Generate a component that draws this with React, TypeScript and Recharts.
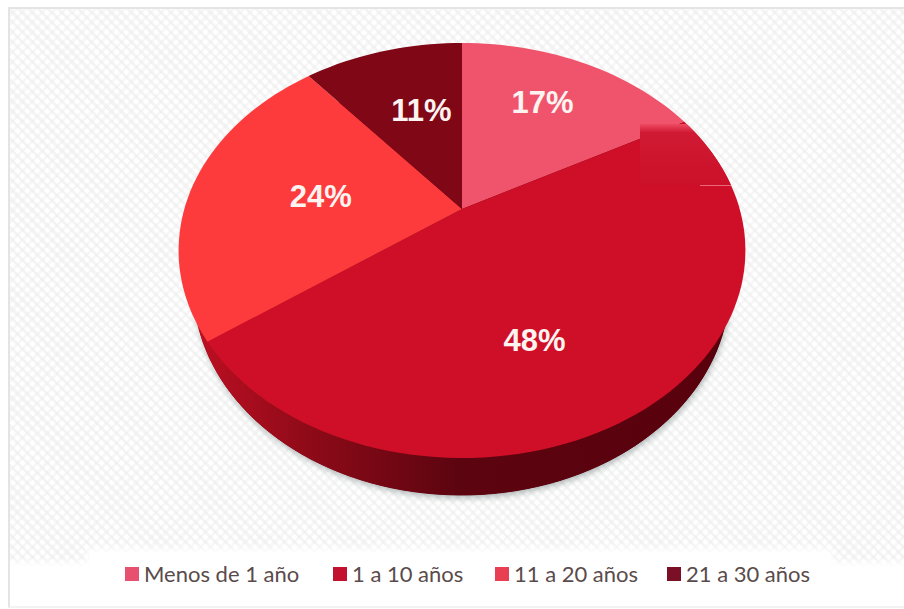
import React from 'react';
import { PieChart, Pie, Legend } from 'recharts';

const categories = ['Menos de 1 año', '1 a 10 años', '11 a 20 años', '21 a 30 años'];
const shares = [17, 48, 24, 11];
const sliceColors = ['#f0546c', '#cf0f27', '#fd3b3c', '#7f0716'];
const legendColors = ['#e8506f', '#c4102f', '#e83f52', '#7a0f26'];

// label position correction per slice, the labels in the picture are hand placed
const labelShiftX = [-2, -36, 35, 14];
const labelShiftY = [-6, 9, 3, 10];
const legendItemWidths = [208, 162, 172, 160];

const WIDTH = 904;
const HEIGHT = 609;
const APEX_X = 462;
const APEX_Y = 209;

// tilted disc: maps a point of the unit circle onto the perspective ellipse
const TILT = 0.2;
const SPREAD_X = 277.7;
const SPREAD_Y = 157.4;
const WALL_DEPTH = 37;
const WALL_NARROW = 0.945;

const chartData = categories.map((name, i) => ({
    name,
    value: shares[i],
    fill: sliceColors[i],
    legendFill: legendColors[i],
}));

const project = (angle: number, r = 1) => {
    const rad = (angle * Math.PI) / 180;
    const u = Math.cos(rad) * r;
    const v = Math.sin(rad) * r;
    const d = 1 + TILT * v;
    return { x: APEX_X + (SPREAD_X * u) / d, y: (APEX_Y - SPREAD_Y * v) / d };
};

const rimPoints = (start: number, end: number) => {
    const steps = Math.max(2, Math.ceil(Math.abs(end - start) / 2));
    const pts = [];
    for (let i = 0; i <= steps; i++) {
        pts.push(project(start + ((end - start) * i) / steps));
    }
    return pts;
};

const toWall = (p: { x: number; y: number }) => ({
    x: 461 + (p.x - 461.5) * WALL_NARROW,
    y: p.y + WALL_DEPTH,
});

const wedgePath = (pts: { x: number; y: number }[]) =>
    `M${APEX_X},${APEX_Y} ` + pts.map((p) => `L${p.x.toFixed(1)},${p.y.toFixed(1)}`).join(' ') + ' Z';

const ringPath = (pts: { x: number; y: number }[]) =>
    'M' + pts.map((p) => `${p.x.toFixed(1)},${p.y.toFixed(1)}`).join(' L') + ' Z';

const TopSlice = (props: any) => {
    const d = wedgePath(rimPoints(props.startAngle, props.endAngle));
    return (
        <g>
            <path d={d} fill={props.fill} />
            {props.index === 1 && (
                // pasted over patch that the source image has on the right of the disc
                <g clipPath="url(#rimClip)">
                    <rect x={640} y={124} width={100} height={61} fill="url(#patchFill)" />
                    <rect x={700} y={185} width={40} height={1} fill="#e8697a" />
                </g>
            )}
        </g>
    );
};

const WallSlice = (props: any) => {
    const pts = rimPoints(props.startAngle, props.endAngle).map(toWall);
    return (
        <g>
            {props.index === 0 && (
                <path
                    d={ringPath(rimPoints(0, 360).map(toWall))}
                    fill="#58000c"
                    style={{ filter: 'drop-shadow(1px 3px 3px rgba(80,95,95,0.45))' }}
                />
            )}
            <path d={wedgePath(pts)} fill="url(#wallFill)" stroke="url(#wallFill)" strokeWidth={1} />
        </g>
    );
};

const renderLabel = (props: any) => {
    const p = project(props.midAngle, 0.65);
    return (
        <text
            x={p.x + labelShiftX[props.index]}
            y={p.y + labelShiftY[props.index]}
            fill="#fdf3f1"
            textAnchor="middle"
            dominantBaseline="central"
            fontFamily="'Liberation Sans', Arial, sans-serif"
            fontWeight="bold"
            fontSize={31}
        >
            {shares[props.index]}%
        </text>
    );
};

const renderLegend = () => (
    <div style={{ display: 'flex', alignItems: 'center', height: 44, background: '#fff', boxShadow: '0 0 8px 3px #fff', paddingLeft: 35 }}>
        {chartData.map((d, i) => (
            <div key={d.name} style={{ display: 'flex', alignItems: 'center', width: legendItemWidths[i] }}>
                <span style={{ width: 14, height: 14, background: d.legendFill, marginRight: 5, display: 'inline-block' }} />
                <span style={{ fontFamily: 'Lato, sans-serif', fontSize: 22, color: '#5a4b4b', whiteSpace: 'nowrap', position: 'relative', top: -1 }}>{d.name}</span>
            </div>
        ))}
    </div>
);

export default function App() {
    return (
        <div
            style={{
                position: 'absolute',
                left: 0,
                top: 0,
                width: WIDTH,
                height: HEIGHT,
                background: '#fff',
                overflow: 'hidden',
            }}
        >
            <div
                style={{
                    position: 'absolute',
                    left: 8,
                    top: 7,
                    right: -4,
                    bottom: 1,
                    boxSizing: 'border-box',
                    border: '2px solid #e4e4e4',
                    borderBottomColor: '#f3f3f3',
                    backgroundColor: '#fff',
                    backgroundImage:
                        'repeating-linear-gradient(45deg, rgba(236,236,236,0.55) 0 3px, transparent 3px 7px), repeating-linear-gradient(-45deg, rgba(236,236,236,0.4) 0 3px, transparent 3px 7px)',
                }}
            />
            <div style={{ position: 'absolute', left: 10, top: 558, right: 0, bottom: 3, background: 'linear-gradient(#ffffff00, #fff 9px)' }} />
            <div style={{ position: 'absolute', left: 0, top: 0 }}>
                <PieChart width={WIDTH} height={HEIGHT} margin={{ top: 0, right: 0, bottom: 0, left: 0 }}>
                    <defs>
                        <clipPath id="rimClip">
                            <path d={ringPath(rimPoints(0, 360))} />
                        </clipPath>
                        <linearGradient id="patchFill" x1="0" y1="0" x2="0" y2="1">
                            <stop offset="0" stopColor="#ee4a62" />
                            <stop offset="0.14" stopColor="#d01a33" />
                            <stop offset="1" stopColor="#cc1029" />
                        </linearGradient>
                        <linearGradient id="wallFill" gradientUnits="userSpaceOnUse" x1={200} y1={0} x2={745} y2={0}>
                            <stop offset="0" stopColor="#bb0f22" />
                            <stop offset="0.2" stopColor="#8e0a18" />
                            <stop offset="0.47" stopColor="#5c0510" />
                            <stop offset="1" stopColor="#58000c" />
                        </linearGradient>
                    </defs>
                    <Pie
                        data={chartData}
                        dataKey="value"
                        nameKey="name"
                        cx={APEX_X}
                        cy={APEX_Y}
                        outerRadius={200}
                        startAngle={90}
                        endAngle={-270}
                        legendType="none"
                        shape={WallSlice}
                        isAnimationActive={false}
                    />
                    <Pie
                        data={chartData}
                        dataKey="value"
                        nameKey="name"
                        cx={APEX_X}
                        cy={APEX_Y}
                        outerRadius={200}
                        startAngle={90}
                        endAngle={-270}
                        shape={TopSlice}
                        label={renderLabel}
                        labelLine={false}
                        isAnimationActive={false}
                    />
                    <Legend
                        content={renderLegend}
                        wrapperStyle={{ position: 'absolute', left: 90, top: 552, width: 740, height: 44 }}
                    />
                </PieChart>
            </div>
        </div>
    );
}
